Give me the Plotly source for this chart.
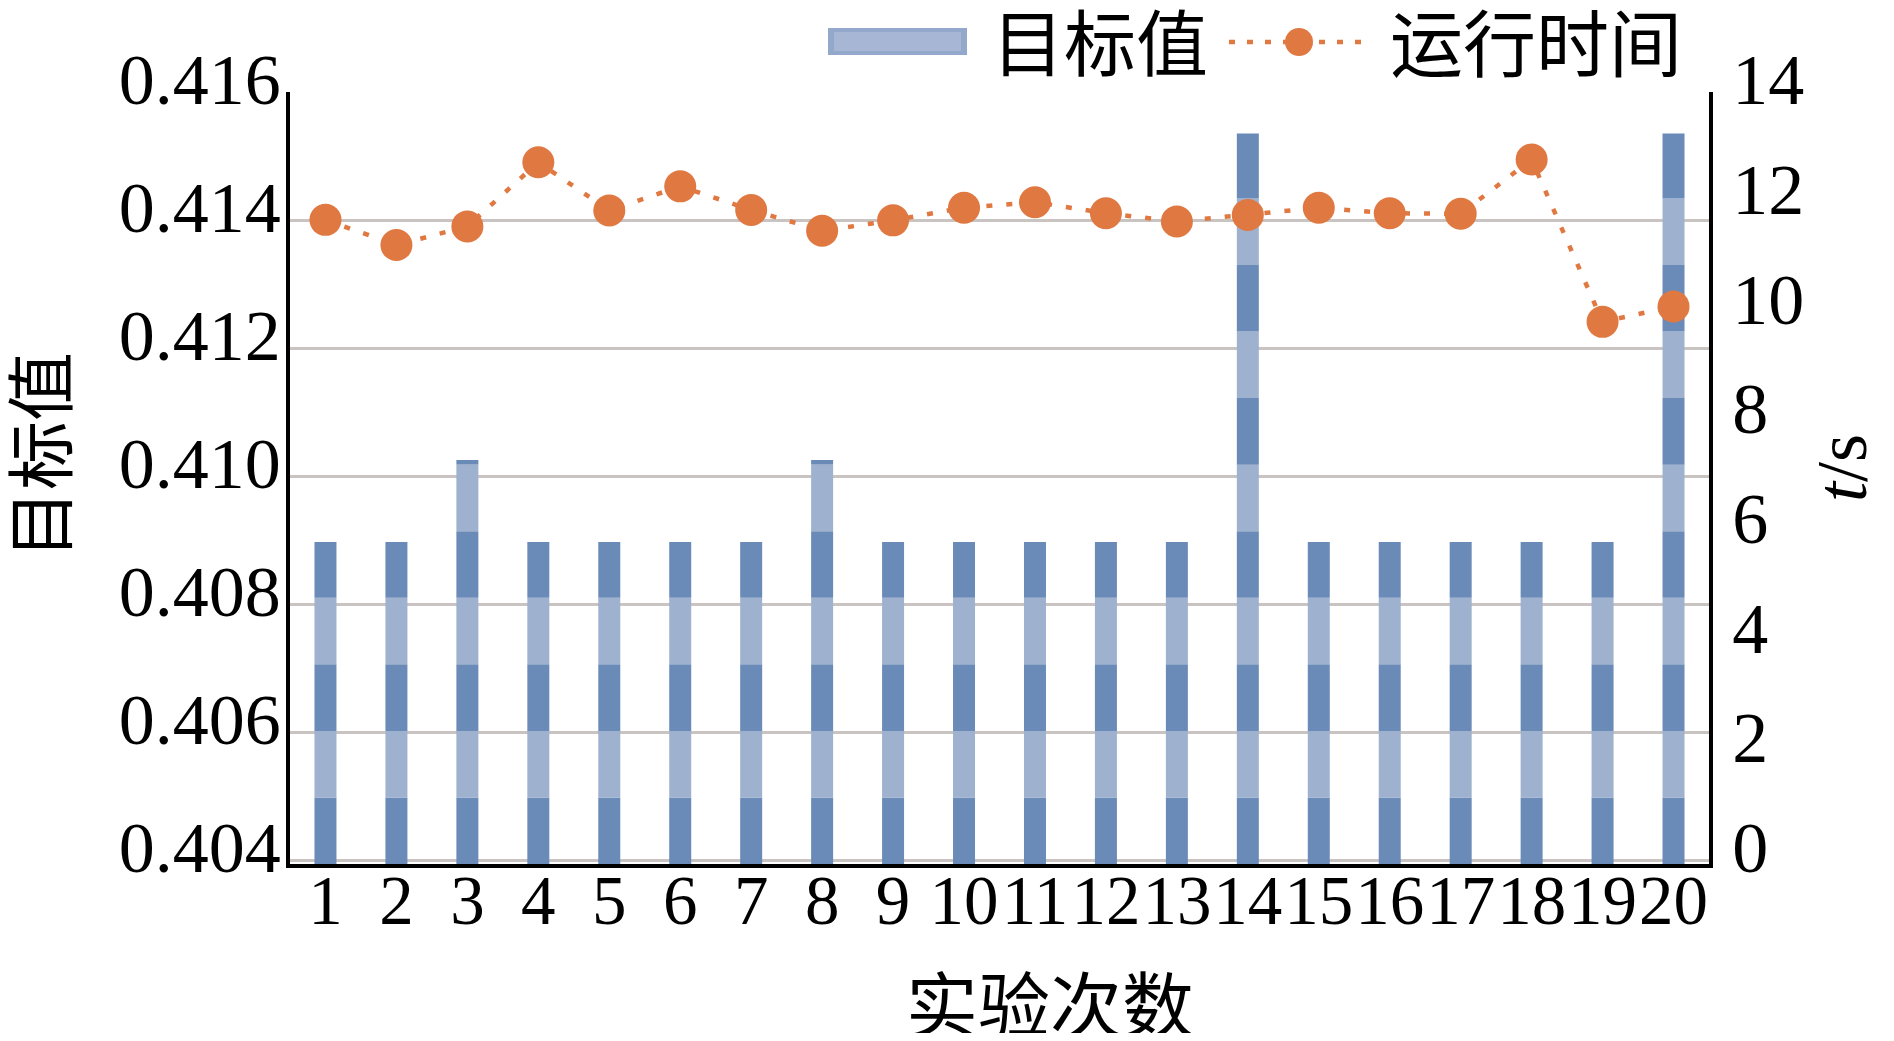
import numpy as np
import plotly.graph_objects as go

# ---------------- data ----------------
runs = list(range(1, 21))
objective = [0.40897, 0.40897, 0.41025, 0.40897, 0.40897, 0.40897, 0.40897, 0.41025, 0.40897, 0.40897,
             0.40897, 0.40897, 0.40897, 0.41535, 0.40897, 0.40897, 0.40897, 0.40897, 0.40897, 0.41535]
run_time = [11.67, 11.21, 11.55, 12.72, 11.84, 12.28, 11.85, 11.47, 11.66, 11.89,
            11.99, 11.79, 11.64, 11.76, 11.89, 11.79, 11.78, 12.77, 9.81, 10.09]
left_ticks = [0.404, 0.406, 0.408, 0.410, 0.412, 0.414, 0.416]
right_ticks = [0, 2, 4, 6, 8, 10, 12, 14]
x_title = "实验次数"
y_title = "目标值"
y2_title = "<i>t</i>/s"
series_names = ["目标值", "运行时间"]

# ---------------- style ----------------
PAGE_W, PAGE_H = 1894, 1041
BODY = 8                                   # default page margin around the figure
W, H = PAGE_W - 2 * BODY, PAGE_H - 2 * BODY
L, R, T, B = 290, 1709, 92, 864            # plot area in page pixels
Y_TOP = left_ticks[-1]
PX_PER_UNIT = (B - T - 4) / (left_ticks[-1] - left_ticks[0])
Y_MIN = left_ticks[0] - 4 / PX_PER_UNIT    # axis bottom slightly below 0.404 gridline
T_MAX = right_ticks[-1]
T_MIN = (Y_MIN - left_ticks[0]) / (Y_TOP - left_ticks[0]) * T_MAX
BAND = 0.00104                             # height of one stripe of the bar fill
DARK = "#6A8AB7"
LIGHT = "#9EB1CF"
ORANGE = "#E07842"
GRID = "#C9C3C2"
SERIF = "Liberation Serif, Times New Roman, serif"
CJK = "Noto Sans CJK SC, sans-serif"
FS = 72

fig = go.Figure()

# striped bars: one overlay trace per stripe, heights derived from the data
n_bands = int(np.ceil((max(objective) - Y_MIN) / BAND))
for k in range(n_bands):
    lo = Y_MIN + k * BAND
    hi = lo + BAND
    heights = [max(0.0, min(v, hi) - lo) for v in objective]
    fig.add_trace(go.Bar(
        x=runs, y=heights, base=lo, width=0.31,
        marker=dict(color=DARK if k % 2 == 0 else LIGHT, line=dict(width=0)),
        name=series_names[0], showlegend=False, hoverinfo="skip"))

fig.add_trace(go.Scatter(
    x=runs, y=run_time, yaxis="y2", mode="lines+markers", name=series_names[1],
    line=dict(color=ORANGE, width=4.5, dash="6px,14px"),
    marker=dict(color=ORANGE, size=32, line=dict(width=0)),
    showlegend=False))


def px_x(p):
    return (p - L) / (R - L)


def px_y(p):
    return (B - p) / (B - T)


annotations = [
    dict(text=y_title, x=px_x(37), y=px_y(455), textangle=-90,
         font=dict(family=CJK, size=69, color="black")),
    dict(text=x_title, x=px_x(1050), y=px_y(1000),
         font=dict(family=CJK, size=72, color="black")),
    dict(text=y2_title, x=px_x(1842), y=px_y(468), textangle=-90,
         font=dict(family=SERIF, size=FS, color="black")),
    dict(text=series_names[0], x=px_x(1100), y=px_y(39),
         font=dict(family=CJK, size=72, color="black")),
    dict(text=series_names[1], x=px_x(1536), y=px_y(39),
         font=dict(family=CJK, size=73, color="black")),
]
for a in annotations:
    a.update(xref="paper", yref="paper", showarrow=False, xanchor="center", yanchor="middle")

shapes = [
    # legend swatch for bars
    dict(type="rect", xref="paper", yref="paper",
         x0=px_x(828), x1=px_x(967), y0=px_y(55), y1=px_y(28),
         fillcolor="#93A8CB", line=dict(width=0)),
    dict(type="rect", xref="paper", yref="paper",
         x0=px_x(834), x1=px_x(961), y0=px_y(51), y1=px_y(32),
         fillcolor="#A6B6D4", line=dict(width=0)),
    # legend sample for line
    dict(type="line", xref="paper", yref="paper",
         x0=px_x(1229), x1=px_x(1371), y0=px_y(42), y1=px_y(42),
         line=dict(color=ORANGE, width=4.5, dash="6px,12px")),
    dict(type="circle", xref="paper", yref="paper",
         x0=px_x(1285), x1=px_x(1313), y0=px_y(56), y1=px_y(28),
         fillcolor=ORANGE, line=dict(width=0)),
]

fig.update_layout(
    width=W, height=H,
    margin=dict(l=L - BODY, r=(PAGE_W - BODY) - R, t=T - BODY, b=(PAGE_H - BODY) - B, pad=0),
    paper_bgcolor="white", plot_bgcolor="white",
    barmode="overlay", showlegend=False,
    annotations=annotations, shapes=shapes,
    xaxis=dict(range=[0.5, 20.5], tickvals=runs, ticktext=[str(r) for r in runs],
               tickangle=0, showgrid=False, zeroline=False,
               showline=True, linecolor="black", linewidth=3.5, ticks="",
               tickfont=dict(family=SERIF, size=69, color="black"),
               ticklabelstandoff=-27),
    yaxis=dict(range=[Y_MIN, Y_TOP], tickvals=left_ticks, tickformat=".3f",
               showgrid=True, gridcolor=GRID, gridwidth=3, zeroline=False,
               showline=True, linecolor="black", linewidth=3.5, ticks="",
               tickfont=dict(family=SERIF, size=FS, color="black"),
               ticklabelshift=-13, ticklabelstandoff=-9),
    yaxis2=dict(range=[T_MIN, T_MAX], tickvals=right_ticks, overlaying="y", side="right",
                showgrid=False, zeroline=False,
                showline=True, linecolor="black", linewidth=3.5, ticks="",
                tickfont=dict(family=SERIF, size=FS, color="black"),
                ticklabelshift=-13, ticklabelstandoff=5),
)

fig.write_html("out.html")
